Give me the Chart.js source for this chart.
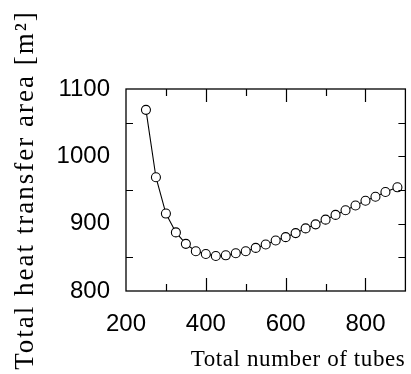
<!DOCTYPE html>
<html>
<head>
<meta charset="utf-8">
<script src="https://cdn.jsdelivr.net/npm/chart.js@4/dist/chart.umd.min.js"></script>
<style>
html,body{margin:0;padding:0;background:#fff;}
canvas{display:block;}
</style>
</head>
<body>
<canvas id="c" width="411" height="374"></canvas>
<script>
// ---- data ----
const tubes = [250,275,300,325,350,375,400,425,450,475,500,525,550,575,600,625,650,675,700,725,750,775,800,825,850,880];
const area  = [1069,969,915,887,870,859,855,852,853,856,859,864,869,875,880,886,893,899,906,913,920,927,934,940,947,954];
const xTickLabels = [200,400,600,800];
const yTickLabels = [800,900,1000,1100];
const xTickMarks = [300,400,500,600,700,800];
const yTickMarksRight = [850,900,950,1000,1050];
const yTickMarksLeft = [850,950,1050];
const xTitle = 'Total number of tubes';
const yTitle = 'Total heat transfer area [m\u00B2]';

const titleSpacing = {x: '0.6px', y: '2px'};

const framePlugin = {
  id: 'frame',
  afterLayout(chart) {
    for (const id of ['x','y']) {
      const s = chart.scales[id];
      if (!s._spaced) {
        const orig = s.drawTitle.bind(s);
        s.drawTitle = function() {
          const ctx = this.ctx;
          ctx.save();
          ctx.letterSpacing = titleSpacing[id];
          orig();
          ctx.restore();
        };
        s._spaced = true;
      }
    }
  },
  afterDatasetsDraw(chart) {
    const ctx = chart.ctx;
    const a = chart.chartArea;
    const xs = chart.scales.x, ys = chart.scales.y;
    ctx.save();
    ctx.strokeStyle = '#000';
    ctx.lineWidth = 1.3;
    ctx.strokeRect(a.left, a.top, a.right - a.left, a.bottom - a.top);
    ctx.lineWidth = 1.2;
    ctx.beginPath();
    for (const v of xTickMarks) {
      const px = Math.round(xs.getPixelForValue(v)) + 0.5;
      const len = (v % 200 === 0) ? 13 : 7;
      ctx.moveTo(px, a.bottom); ctx.lineTo(px, a.bottom - len);
      ctx.moveTo(px, a.top); ctx.lineTo(px, a.top + len);
    }
    for (const v of yTickMarksRight) {
      const py = Math.round(ys.getPixelForValue(v)) + 0.5;
      ctx.moveTo(a.right, py); ctx.lineTo(a.right - 7, py);
    }
    for (const v of yTickMarksLeft) {
      const py = Math.round(ys.getPixelForValue(v)) + 0.5;
      ctx.moveTo(a.left, py); ctx.lineTo(a.left + 7, py);
    }
    ctx.stroke();
    ctx.restore();
  }
};

new Chart(document.getElementById('c'), {
  type: 'line',
  data: {
    datasets: [{
      data: tubes.map((t, i) => ({x: t, y: area[i]})),
      borderColor: '#000',
      borderWidth: 1.1,
      backgroundColor: '#fff',
      pointBackgroundColor: '#fff',
      pointBorderColor: '#000',
      pointBorderWidth: 1.1,
      pointRadius: 4.5,
      tension: 0,
      fill: false
    }]
  },
  options: {
    responsive: false,
    animation: false,
    devicePixelRatio: 1,
    layout: {padding: {top: 89, right: 3, left: 0, bottom: 0}},
    plugins: {legend: {display: false}, tooltip: {enabled: false}},
    scales: {
      x: {
        type: 'linear',
        min: 200, max: 900,
        grid: {display: false, drawTicks: false},
        border: {display: false},
        afterBuildTicks: s => { s.ticks = xTickLabels.map(v => ({value: v})); },
        afterFit: s => { s.height = 83; },
        ticks: {color: '#000', padding: 19, maxRotation: 0, callback: v => String(v),
                font: {family: 'Liberation Sans', size: 24}},
        title: {display: true, text: xTitle, align: 'end', color: '#000',
                padding: {top: 0, bottom: 0}, font: {family: 'Liberation Serif', size: 23}}
      },
      y: {
        type: 'linear',
        min: 800, max: 1100,
        grid: {display: false, drawTicks: false},
        border: {display: false},
        afterBuildTicks: s => { s.ticks = yTickLabels.map(v => ({value: v})); },
        afterFit: s => { s.width = 126; },
        ticks: {color: '#000', padding: 16, callback: v => String(v),
                font: {family: 'Liberation Sans', size: 24}},
        title: {display: true, text: yTitle, align: 'center', color: '#000',
                padding: {top: 10, bottom: 0}, font: {family: 'Liberation Serif', size: 27}}
      }
    }
  },
  plugins: [framePlugin]
});
</script>
</body>
</html>
